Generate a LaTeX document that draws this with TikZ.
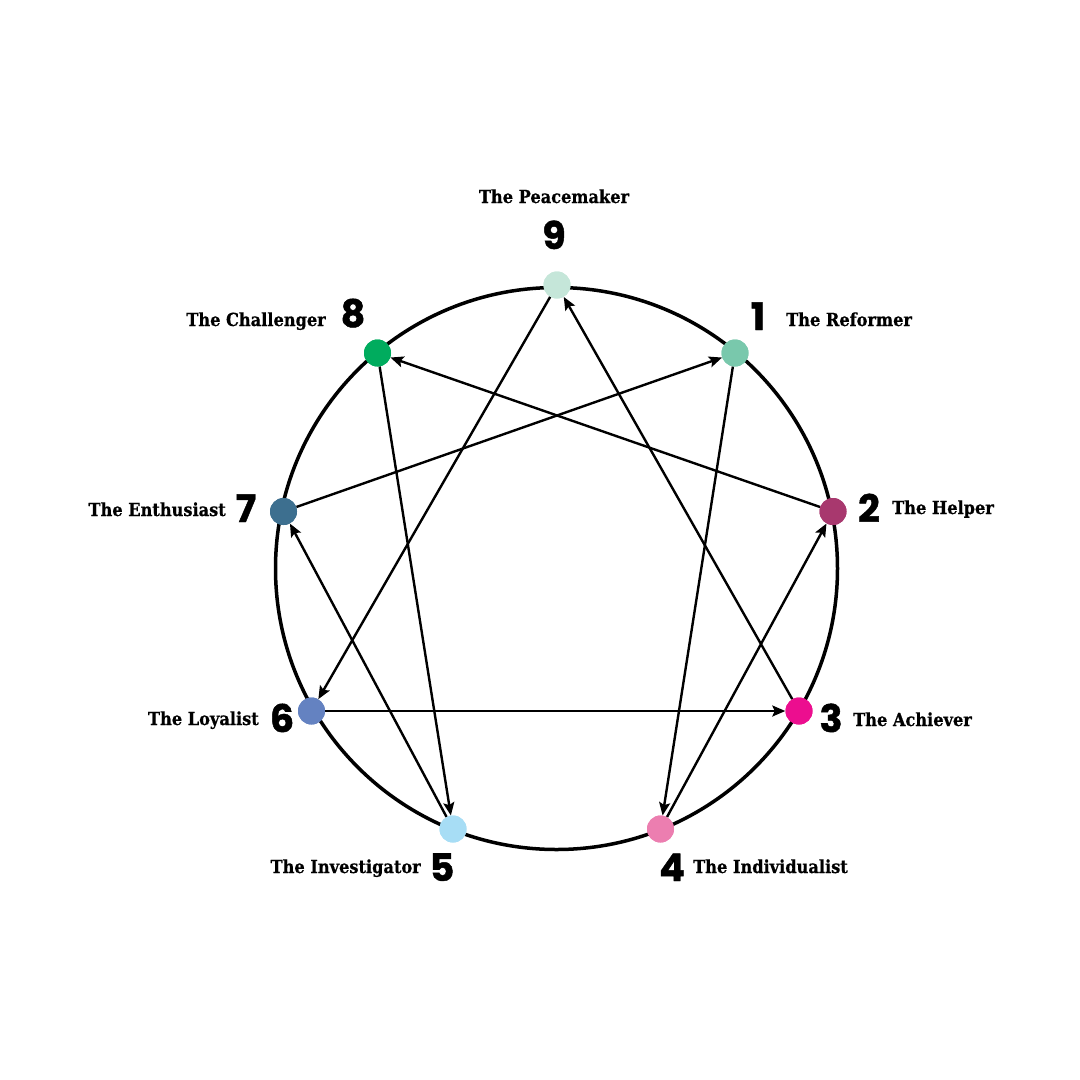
\documentclass[tikz,border=0pt]{standalone}
\usepackage{fontspec}
\usetikzlibrary{arrows.meta}
\newfontfamily\labfont{DejaVu Serif Condensed}[BoldFeatures={FakeBold=0.6}]
\newfontfamily\numfont{Poppins}[BoldFeatures={FakeBold=1.2}]
\definecolor{cNine}{HTML}{C5E6D9}
\definecolor{cOne}{HTML}{79C8AC}
\definecolor{cTwo}{HTML}{A8386E}
\definecolor{cThree}{HTML}{EC0E8F}
\definecolor{cFour}{HTML}{EC7EB0}
\definecolor{cFive}{HTML}{A7DDF5}
\definecolor{cSix}{HTML}{6482C1}
\definecolor{cSeven}{HTML}{3D6F8F}
\definecolor{cEight}{HTML}{00AC5E}
\tikzset{
  dot/.style={circle, minimum size=27pt, inner sep=0pt, fill=#1},
  lab/.style={font=\labfont\bfseries\fontsize{18}{18}\selectfont, inner sep=0pt},
  num/.style={font=\numfont\bfseries\fontsize{38}{38}\selectfont, inner sep=0pt, anchor=base},
  arr/.style={line width=2.4pt, -{Stealth[length=13pt, width=11pt, inset=2.5pt]}},
  ring/.style={line width=3.5pt}
}
\begin{document}
\begin{tikzpicture}[x=1pt, y=-1pt]
\useasboundingbox (0,0) rectangle (1080,1080);
\fill[white] (0,0) rectangle (1080,1080);
\coordinate (ctr) at (556.5,568.5);
\draw[ring] (ctr) circle[radius=281];
% dot positions
\node[dot=cNine]  (n9) at (557,285) {};
\node[dot=cOne]   (n1) at (735,353) {};
\node[dot=cTwo]   (n2) at (833,511.5) {};
\node[dot=cThree] (n3) at (799,711) {};
\node[dot=cFour]  (n4) at (660.5,829) {};
\node[dot=cFive]  (n5) at (453,829) {};
\node[dot=cSix]   (n6) at (311.5,711) {};
\node[dot=cSeven] (n7) at (283.5,511.5) {};
\node[dot=cEight] (n8) at (377.5,353) {};
% arrows
\draw[arr] (n1) -- (n4);
\draw[arr] (n4) -- (n2);
\draw[arr] (n2) -- (n8);
\draw[arr] (n8) -- (n5);
\draw[arr] (n5) -- (n7);
\draw[arr] (n7) -- (n1);
\draw[arr] (n9) -- (n6);
\draw[arr] (n6) -- (n3);
\draw[arr] (n3) -- (n9);
% redraw dots on top
\foreach \n/\c in {n9/cNine,n1/cOne,n2/cTwo,n3/cThree,n4/cFour,n5/cFive,n6/cSix,n7/cSeven,n8/cEight}
  \fill[\c] (\n) circle[radius=13.5pt];
% numbers
\node[num] (d9) at (554,249) {9};
\node[num] (d8) at (353,327) {8};
\node[num] (d1) at (758,330) {1};
\node[num] (d7) at (246,522) {7};
\node[num] (d2) at (869,522) {2};
\node[num] (d6) at (282,732) {6};
\node[num] (d3) at (831,732) {3};
\node[num] (d5) at (442,881) {5};
\node[num] (d4) at (672,881) {4};
% labels
\node[lab, anchor=base] (l9) at (554,203) {The Peacemaker};
\node[lab, anchor=base east] (l8) at (326,326) {The Challenger};
\node[lab, anchor=base west] (l1) at (786,326) {The Reformer};
\node[lab, anchor=base east] (l7) at (226,516) {The Enthusiast};
\node[lab, anchor=base west] (l2) at (892,514) {The Helper};
\node[lab, anchor=base east] (l6) at (259,725) {The Loyalist};
\node[lab, anchor=base west] (l3) at (853,726) {The Achiever};
\node[lab, anchor=base east] (l5) at (421,873) {The Investigator};
\node[lab, anchor=base west] (l4) at (693,873) {The Individualist};
\end{tikzpicture}
\end{document}
